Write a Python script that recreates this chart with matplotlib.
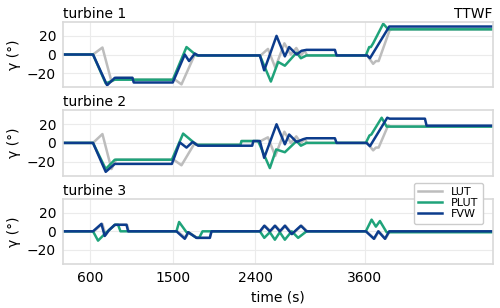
import matplotlib
matplotlib.use("Agg")
import matplotlib.pyplot as plt

# yaw angle trajectories (time in s, gamma in deg)
t1_lut = [300, 628, 731, 830, 880, 1059, 1073, 1525, 1595, 1741, 1777, 2460, 2540, 2620,
          2720, 2790, 2850, 2900, 2940, 2970, 3625, 3690, 3720, 3750, 3870, 3900, 5000]
y1_lut = [0, 0, 7.5, -29, -25, -25, -27, -27, -32, 0, -1, -1, 6, -14,
          12, 0, 7, -1, 4, -1, -1, -10, -7, -7, 26, 27, 27]
t1_plut = [300, 628, 767, 866, 1500, 1650, 1759, 2452, 2572, 2652, 2725, 2853, 2900, 2962,
           3610, 3647, 3665, 3690, 3800, 3855, 5000]
y1_plut = [0, 0, -31, -27, -27, 8, -1, -1, -29, -8, -12, 2, -4, -1,
           -1, 8, 8, 12, 33, 27, 27]
t1_fvw = [300, 628, 782, 866, 1059, 1073, 1500, 1631, 1678, 1741, 1777, 2452, 2499, 2634,
          2725, 2772, 2853, 2908, 2962, 3272, 3290, 3625, 3655, 3866, 5000]
y1_fvw = [0, 0, -33, -25, -25, -30, -30, 0, -7, 1, -1, -1, -17, 20,
          -2, 8, 0, 4, 5, 5, -1, -1, -4, 30, 30]

t2_lut = [300, 628, 731, 830, 880, 1510, 1595, 1741, 1777, 2240, 2251, 2460, 2540, 2620,
          2720, 2790, 2850, 2900, 2940, 2970, 3625, 3690, 3720, 3750, 3855, 3880, 5000]
y2_lut = [0, 0, 9.5, -28, -18, -18, -24, 0, -2, -2, 2, 2, 6, -14,
          12, 0, 7, 0, 4, 0, 0, -8, -5, -5, 19, 17.5, 17.5]
t2_plut = [300, 628, 767, 866, 1490, 1613, 1759, 2240, 2251, 2433, 2561, 2630, 2725, 2853,
           2900, 2962, 3610, 3650, 3670, 3783, 3838, 5000]
y2_plut = [0, 0, -28, -18, -18, 10, -2, -2, 2, 2, -27, -7, -10, 2,
           -3, 0, 0, 8, 9, 27, 17.5, 17.5]
t2_fvw = [300, 628, 767, 866, 1490, 1577, 1650, 1717, 1777, 2368, 2380, 2452, 2499, 2634,
          2725, 2772, 2853, 2926, 2962, 3272, 3290, 3617, 3655, 3844, 3870, 4256, 4274, 5000]
y2_fvw = [0, 0, -31, -22.5, -22.5, 0.5, -5, 1, -3, -3, 2, 2, -16, 20,
          -1.5, 9, 1, 4, 5, 5, 0, 0, -3.5, 27, 26, 26, 18.5, 18.5]

t3_lut = [300, 638, 730, 766, 810, 876, 1000, 1018, 1550, 1640, 1676, 1765, 1905, 1925,
          2460, 2508, 2569, 2624, 2678, 2733, 2808, 2908, 2970, 3615, 3705, 3752, 3825, 3872, 5000]
y3_lut = [0, 0, 8, -4, 2, 7, 7, 0, 0, -7, -1, -7, -7, 0,
          0, 6, 0, 6, 0, 6, -3, 6, 0, 0, -8, 0, -8, 0, 0]
t3_plut = [300, 628, 683, 775, 800, 866, 902, 928, 1540, 1569, 1650, 1668, 1759, 1788, 1825,
           2452, 2500, 2561, 2616, 2670, 2725, 2800, 2870, 2962, 3610, 3673, 3720, 3764, 3837, 5000]
y3_plut = [0, 0, -10, -1, 1, 7, 7, 0, 0, 10, -1, -1, -7, -7, 0,
           0, -7, -1, -9, -1, -9, 0, -7, 0, 0, 12.5, 5, 11, -1, -1]
t3_fvw = [300, 628, 720, 756, 800, 866, 994, 1012, 1540, 1631, 1668, 1759, 1905, 1923,
          2452, 2500, 2561, 2616, 2670, 2725, 2800, 2900, 2962, 3610, 3698, 3746, 3819, 3866, 5000]
y3_fvw = [0, 0, 8, -5, 1, 7, 7, 0, 0, -8, -1, -7, -7, 0,
          0, 6, 0, 6, 0, 6, -3, 6, 0, 0, -8, 0, -8, 0, 0]

turbines = ["turbine 1", "turbine 2", "turbine 3"]
x_ticks = [600, 1500, 2400, 3600]
y_ticks = [-20, 0, 20]

series = [
    [(t1_lut, y1_lut), (t1_plut, y1_plut), (t1_fvw, y1_fvw)],
    [(t2_lut, y2_lut), (t2_plut, y2_plut), (t2_fvw, y2_fvw)],
    [(t3_lut, y3_lut), (t3_plut, y3_plut), (t3_fvw, y3_fvw)],
]
labels = ["LUT", "PLUT", "FVW"]
colors = ["#bdbdbd", "#1fa37a", "#0c3c8c"]

plt.rcParams["font.family"] = "DejaVu Sans"
plt.rcParams["font.size"] = 10

fig, axes = plt.subplots(3, 1, figsize=(5.0, 3.08), dpi=100, sharex=True)
fig.subplots_adjust(left=0.126, right=0.986, top=0.929, bottom=0.143, hspace=0.354)

for ax, name, lines in zip(axes, turbines, series):
    for (t, y), lab, c in zip(lines, labels, colors):
        ax.plot(t, y, color=c, lw=1.8, label=lab)
    ax.set_xlim(300, 5000)
    ax.set_ylim(-35, 35)
    ax.set_xticks(x_ticks)
    ax.set_yticks(y_ticks)
    ax.grid(True, color="#ebebeb", lw=0.8)
    ax.set_axisbelow(True)
    for s in ax.spines.values():
        s.set_color("#d9d9d9")
        s.set_linewidth(1.2)
    ax.tick_params(length=0, pad=5, labelsize=10)
    ax.set_ylabel("γ (°)")
    ax.set_title(name, loc="left", pad=3, fontsize=10)

axes[0].set_title("TTWF", loc="right", pad=3, fontsize=10)
axes[2].set_xlabel("time (s)")
axes[2].legend(loc="upper right", bbox_to_anchor=(0.99, 1.33), fontsize=8,
               labelspacing=0.1, handlelength=2.2, borderpad=0.4, framealpha=1)

fig.savefig("out.png", dpi=100)
